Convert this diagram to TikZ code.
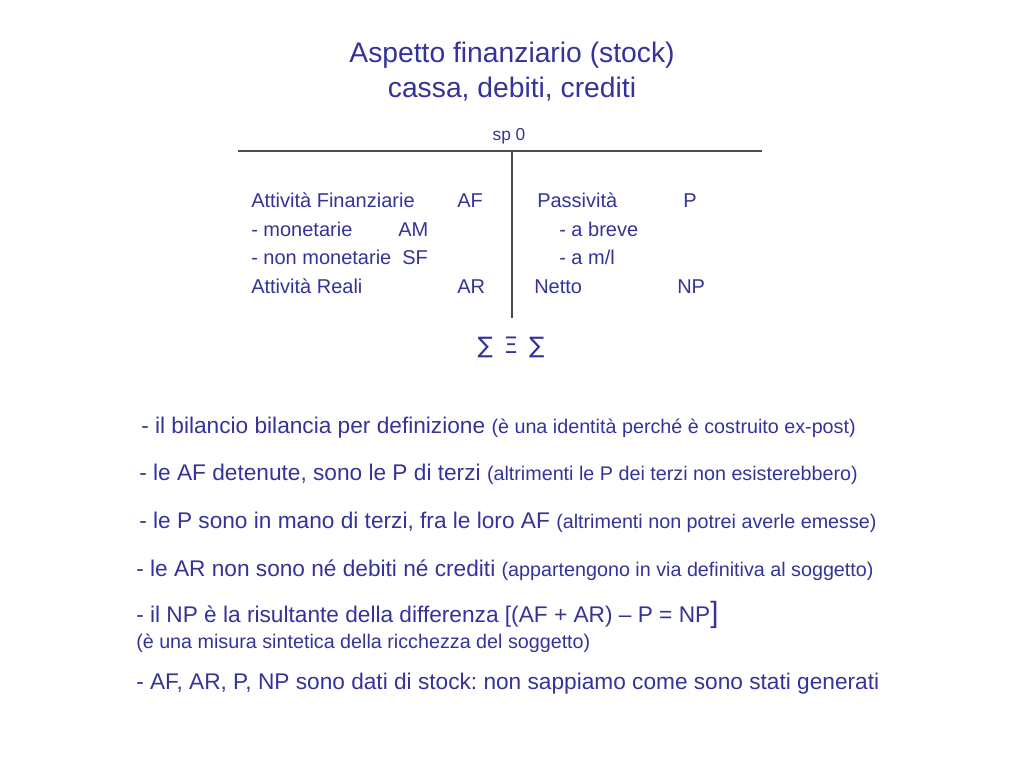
\documentclass[tikz,border=0pt]{standalone}
\usepackage{fontspec}
\setmainfont{Liberation Sans}
\newfontfamily\symfont{DejaVu Sans}
\definecolor{blu}{HTML}{333399}
\newcommand{\piccolo}{\fontsize{14.8}{17}\selectfont}
\frenchspacing
\begin{document}
\begin{tikzpicture}[x=0.75pt,y=-0.75pt,every node/.style={text=blu, inner sep=0pt, anchor=base west},
    tit/.style={font=\fontsize{21.2}{25}\selectfont, anchor=center},
    voce/.style={font=\fontsize{15}{18}\selectfont},
    riga/.style={font=\fontsize{17}{20}\selectfont},
    nota/.style={font=\piccolo}]
    \useasboundingbox (0,0) rectangle (1024,768);
    % Titolo
    \node[tit] (T1) at (512,55) {Aspetto finanziario (stock)};
    \node[tit] (T2) at (512,89) {cassa, debiti, crediti};
    \node[font=\fontsize{13}{15}\selectfont, anchor=center] (S) at (509,136) {sp 0};

    % Conto
    \coordinate (L) at (238,151);
    \coordinate (R) at (762,151);
    \coordinate (M) at (512,151);
    \coordinate (B) at (512,318);
    \draw[line width=1pt, black!70] (L) -- (R);
    \draw[line width=1pt, black!70] (M) -- (B);

    % Nodi
    \node[voce] (A1) at (251,207) {Attività Finanziarie};
    \node[voce] (A2) at (457,207) {AF};
    \node[voce] (A3) at (251,236) {- monetarie};
    \node[voce] (A4) at (398,236) {AM};
    \node[voce] (A5) at (251,264) {- non monetarie};
    \node[voce] (A6) at (402,264) {SF};
    \node[voce] (A7) at (251,293) {Attività Reali};
    \node[voce] (A8) at (457,293) {AR};
    \node[voce] (P1) at (537,207) {Passività};
    \node[voce] (P2) at (683,207) {P};
    \node[voce] (P3) at (559,236) {- a breve};
    \node[voce] (P4) at (559,264) {- a m/l};
    \node[voce] (P5) at (534,293) {Netto};
    \node[voce] (P6) at (677,293) {NP};
    \node[font=\symfont\fontsize{17}{19}\selectfont, anchor=center] (E) at (511,347) {∑ \,Ξ\, ∑};

    % Righe
    \node[riga] (R1) at (141,433) {- il bilancio bilancia per definizione {\piccolo(è una identità perché è costruito ex-post)}};
    \node[riga] (R2) at (139,480) {- le AF detenute, sono le P di terzi {\piccolo(altrimenti le P dei terzi non esisterebbero)}};
    \node[riga] (R3) at (139,528) {- le P sono in mano di terzi, fra le loro AF {\piccolo(altrimenti non potrei averle emesse)}};
    \node[riga] (R4) at (136,576) {- le AR non sono né debiti né crediti {\piccolo(appartengono in via definitiva al soggetto)}};
    \node[riga] (R5) at (136,622) {- il NP è la risultante della differenza [(AF + AR) – P = NP{\fontsize{22}{24}\selectfont]}};
    \node[nota] (R6) at (136,648) {(è una misura sintetica della ricchezza del soggetto)};
    \node[riga] (R7) at (136,689) {- AF, AR, P, NP sono dati di stock: non sappiamo come sono stati generati};

\end{tikzpicture}
\end{document}
